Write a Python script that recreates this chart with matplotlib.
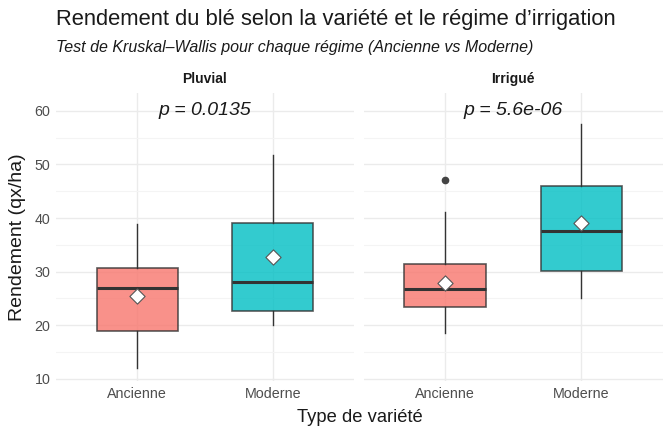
import matplotlib.pyplot as plt
import numpy as np

plt.rcParams["font.family"] = ["Liberation Sans", "DejaVu Sans"]

regimes = ["Pluvial", "Irrigué"]
varietes = ["Ancienne", "Moderne"]
# whislo, q1, med, q3, whishi, mean per regime x variety
whislo = [[12.1, 20.1], [18.6, 25.1]]
q1 = [[19.0, 22.6], [23.5, 30.2]]
med = [[26.9, 28.1], [26.7, 37.5]]
q3 = [[30.6, 39.1], [31.4, 45.9]]
whishi = [[38.8, 51.8], [41.1, 57.6]]
means = [[25.4, 32.8], [27.8, 39.1]]
outliers = [[[], []], [[47.0], []]]
pvals = ["p = 0.0135", "p = 5.6e-06"]
colors = ["#F8766D", "#00BFC4"]

fig = plt.figure(figsize=(6.72, 4.37), dpi=100)
axes = [fig.add_axes([0.0833, 0.128, 0.4435, 0.659]),
        fig.add_axes([0.541, 0.128, 0.4457, 0.659])]

for k, ax in enumerate(axes):
    stats = []
    for j in range(2):
        stats.append(dict(whislo=whislo[k][j], q1=q1[k][j], med=med[k][j], q3=q3[k][j],
                          whishi=whishi[k][j], fliers=outliers[k][j], label=varietes[j]))
    bp = ax.bxp(stats, positions=[1, 2], widths=0.6, patch_artist=True, showcaps=False,
                boxprops=dict(edgecolor="#333333", linewidth=1.2),
                medianprops=dict(color="#333333", linewidth=2.2),
                whiskerprops=dict(color="#333333", linewidth=1.0),
                flierprops=dict(marker="o", markerfacecolor="#444444", markeredgecolor="#444444",
                                markersize=4.5))
    for patch, c in zip(bp["boxes"], colors):
        patch.set_facecolor(c)
        patch.set_alpha(0.8)
        patch.set_edgecolor("#333333")
    ax.scatter([1, 2], means[k], marker="D", s=60, facecolor="white", edgecolor="#555555",
               linewidth=0.8, zorder=5)
    ax.text(1.5, 60, pvals[k], ha="center", va="center", fontsize=14, style="italic", color="#1a1a1a")
    ax.set_xlim(0.4, 2.6)
    ax.set_ylim(9.6, 63.3)
    ax.set_xticks([1, 2])
    ax.set_xticklabels(varietes)
    ax.set_yticks([10, 20, 30, 40, 50, 60])
    ax.set_yticks([15, 25, 35, 45, 55], minor=True)
    ax.grid(which="major", color="#EBEBEB", linewidth=1.0)
    ax.grid(which="minor", color="#F4F4F4", linewidth=0.8)
    ax.set_axisbelow(True)
    for s in ax.spines.values():
        s.set_visible(False)
    ax.tick_params(which="both", length=0, labelsize=10.3, labelcolor="#4D4D4D", pad=4)
    ax.set_title(regimes[k], fontsize=10, fontweight="bold", color="#1a1a1a", pad=7)
    if k == 1:
        ax.tick_params(axis="y", labelleft=False)

axes[0].set_ylabel("Rendement (qx/ha)", fontsize=14, color="#1a1a1a", labelpad=6)
fig.text(0.5355, 0.045, "Type de variété", ha="center", va="center", fontsize=13.2, color="#1a1a1a")
fig.text(0.083, 0.956, "Rendement du blé selon la variété et le régime d’irrigation",
         ha="left", va="center", fontsize=15.8, color="#1a1a1a")
fig.text(0.083, 0.892, "Test de Kruskal–Wallis pour chaque régime (Ancienne vs Moderne)",
         ha="left", va="center", fontsize=11.5, style="italic", color="#1a1a1a")

fig.savefig("out.png", dpi=100, facecolor="white")
